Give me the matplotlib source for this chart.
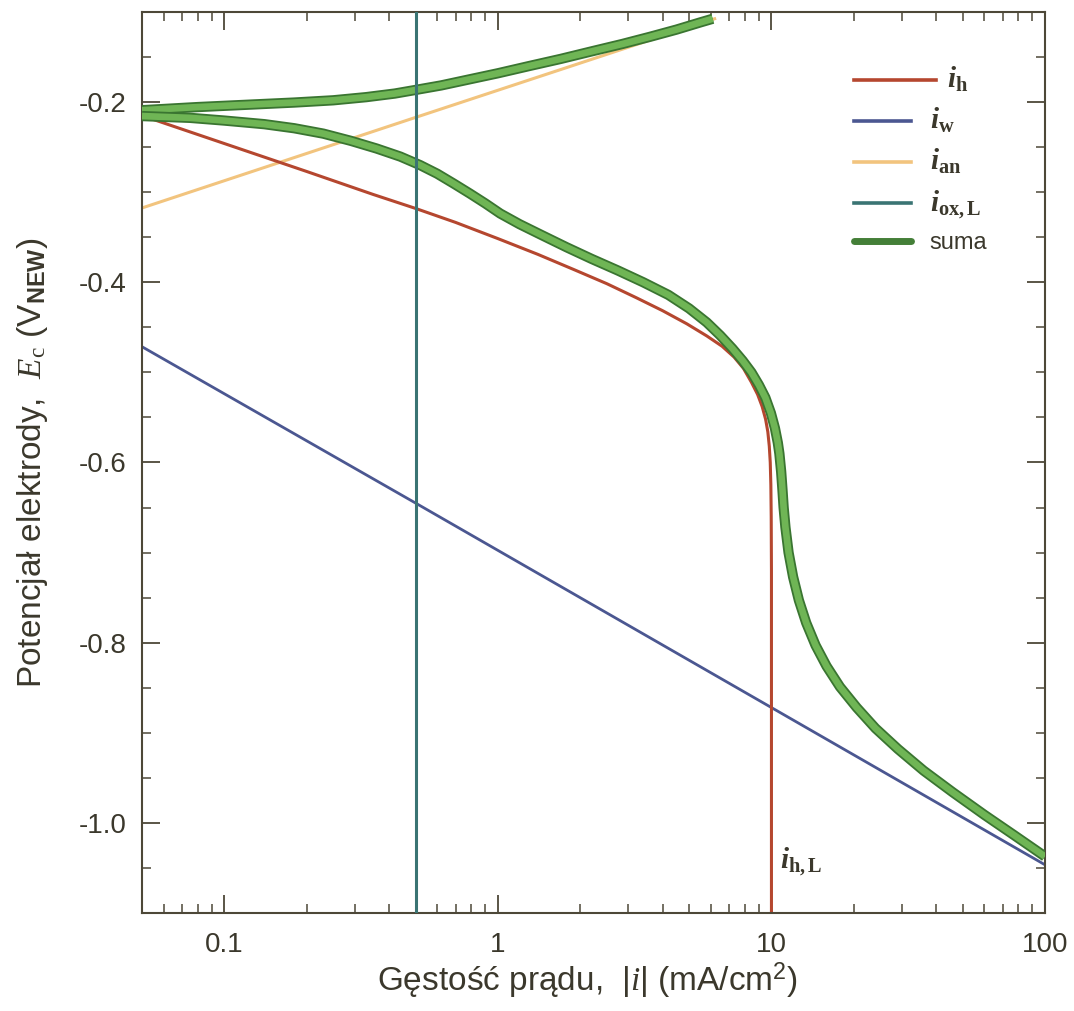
import matplotlib
matplotlib.use('Agg')
import matplotlib.pyplot as plt
import matplotlib.patheffects as pe
from matplotlib.ticker import FixedLocator, FixedFormatter, MultipleLocator, LogLocator, NullFormatter
from matplotlib.lines import Line2D
from matplotlib.legend_handler import HandlerLine2D

plt.rcParams.update({
    'font.family': ['Liberation Sans', 'DejaVu Sans'],
    'mathtext.fontset': 'custom',
    'mathtext.rm': 'Liberation Serif',
    'mathtext.it': 'Liberation Serif:italic',
    'mathtext.bf': 'Liberation Serif:bold',
    'mathtext.bfit': 'Liberation Serif:italic:bold',
    'mathtext.sf': 'Liberation Sans:bold',
    'axes.unicode_minus': False,
})

# ---------------- data ----------------
# i_h : hydrogen evolution with limiting current (mA/cm2, V)
ih_I = [0.05, 0.1, 0.2, 0.35, 0.5, 0.7, 1.0, 1.4, 1.9, 2.5, 3.2, 4.0, 4.9, 5.8, 6.6, 7.3, 7.9,
        8.45, 8.9, 9.25, 9.52, 9.7, 9.82, 9.9, 9.95, 9.98, 10.0, 10.0]
ih_E = [-0.215, -0.246, -0.277, -0.3025, -0.318, -0.3335, -0.3515, -0.369, -0.386, -0.4015, -0.417,
        -0.4315, -0.446, -0.4595, -0.471, -0.483, -0.4955, -0.511, -0.5245, -0.538, -0.552, -0.566,
        -0.582, -0.60, -0.625, -0.66, -0.72, -1.10]

# i_w : water reduction (Tafel line)
iw_I = [0.05, 0.5, 10, 100]
iw_E = [-0.4715, -0.645, -0.872, -1.0465]

# i_an : anodic dissolution
ian_I = [0.05, 0.5, 6.2]
ian_E = [-0.3175, -0.217, -0.1075]

# i_ox,L : limiting oxygen reduction current
iox_I = [0.5, 0.5]
iox_E = [-1.1, -0.1]

# suma : anodic (upper) branch
su_I = [0.05, 0.08, 0.12, 0.18, 0.25, 0.33, 0.42, 0.5, 0.62, 0.78, 1.0, 1.3, 1.7, 2.2, 2.85, 3.6, 4.5, 5.5, 6.1]
su_E = [-0.209, -0.2055, -0.203, -0.2005, -0.198, -0.1945, -0.1905, -0.1865, -0.1815, -0.175, -0.168,
        -0.160, -0.152, -0.1437, -0.1355, -0.1275, -0.1195, -0.1115, -0.1075]

# suma : cathodic (lower) branch
sl_I = [0.05, 0.075, 0.1, 0.14, 0.18, 0.23, 0.29, 0.36, 0.44, 0.52, 0.6, 0.69, 0.79, 0.9, 1.02, 1.2,
        1.45, 1.78, 2.2, 2.75, 3.4, 4.2, 5.0, 5.8, 6.5, 7.2, 7.85, 8.45, 9.0, 9.5, 9.95, 10.3, 10.55,
        10.69, 10.85, 10.97, 11.08, 11.25, 11.55, 12.0, 12.6, 13.4, 14.5, 15.9, 17.8, 20.5, 24.0, 29.0,
        36.0, 46.0, 60.0, 77.0, 100.0]
sl_E = [-0.2155, -0.2175, -0.2205, -0.2245, -0.229, -0.235, -0.243, -0.2515, -0.2605, -0.270, -0.2795,
        -0.2905, -0.3015, -0.3125, -0.3237, -0.3355, -0.3478, -0.361, -0.374, -0.387, -0.400, -0.414,
        -0.429, -0.4445, -0.459, -0.4735, -0.487, -0.500, -0.514, -0.528, -0.545, -0.562, -0.578,
        -0.590, -0.61, -0.63, -0.65, -0.672, -0.70, -0.727, -0.753, -0.778, -0.803, -0.826, -0.849,
        -0.872, -0.895, -0.918, -0.942, -0.966, -0.991, -1.0135, -1.0373]

xticks = [0.1, 1, 10, 100]
xticklabels = ['0.1', '1', '10', '100']
yticks = [-1.0, -0.8, -0.6, -0.4, -0.2]
yticklabels = ['-1.0', '-0.8', '-0.6', '-0.4', '-0.2']

# ---------------- style ----------------
TXT = '#3b382c'
SPINE = '#4d4838'
C_H = '#b5472f'
C_W = '#4b5791'
C_AN = '#f2c47e'
C_OX = '#3a7473'
C_SUM = '#6fb555'
C_SUM_EDGE = '#3a7531'

fig = plt.figure(figsize=(10.74, 10.11), dpi=100)
ax = fig.add_axes([142/1074, 1 - 913/1011, 903/1074, 901/1011])

ax.plot(ian_I, ian_E, color=C_AN, lw=2.2, zorder=2)
ax.plot(iw_I, iw_E, color=C_W, lw=2.0, zorder=2)
ax.plot(ih_I, ih_E, color=C_H, lw=2.2, zorder=2, solid_joinstyle='round')
peff = [pe.Stroke(linewidth=7.4, foreground=C_SUM_EDGE, joinstyle='round'), pe.Normal()]
for xs, ys in ((su_I, su_E), (sl_I, sl_E)):
    ax.plot(xs, ys, color=C_SUM, lw=4.8, zorder=3, path_effects=peff,
            solid_capstyle='butt', solid_joinstyle='round')
ax.plot(iox_I, iox_E, color=C_OX, lw=2.2, zorder=4)

ax.set_xscale('log')
ax.set_xlim(0.05, 100)
ax.set_ylim(-1.1, -0.1)

ax.xaxis.set_major_locator(FixedLocator(xticks))
ax.xaxis.set_major_formatter(FixedFormatter(xticklabels))
ax.xaxis.set_minor_locator(LogLocator(base=10, subs=[2, 3, 4, 5, 6, 7, 8, 9]))
ax.xaxis.set_minor_formatter(NullFormatter())
ax.yaxis.set_major_locator(FixedLocator(yticks))
ax.yaxis.set_major_formatter(FixedFormatter(yticklabels))
ax.yaxis.set_minor_locator(MultipleLocator(0.05))

for s in ax.spines.values():
    s.set_color(SPINE)
    s.set_linewidth(1.5)
ax.tick_params(which='both', direction='in', top=True, right=True, color=SPINE, labelcolor=TXT)
ax.tick_params(which='major', length=13, width=1.3, labelsize=20)
ax.tick_params(which='minor', length=6.5, width=1.1)
ax.tick_params(axis='x', which='major', pad=14)
ax.tick_params(axis='y', which='major', pad=11)

ax.set_xlabel(r'Gęstość prądu,  |$i$| (mA/cm$^{\mathregular{2}}$)', fontsize=24, color=TXT)
ax.set_ylabel(r'Potencjał elektrody,  $E_{\mathrm{c}}$ (V$_{\mathsf{NEW}}$)', fontsize=24, color=TXT)
ax.xaxis.set_label_coords((587 - 142) / 903, (913 - 961) / 901)
ax.yaxis.set_label_coords((50 - 142) / 903, 0.5)

ax.text(10.75, -1.05, r'$\mathbfit{i}_{\mathbf{h,L}}$', fontsize=21, color=TXT, ha='left', va='baseline')


class LongHandler(HandlerLine2D):
    def create_artists(self, legend, orig_handle, xdescent, ydescent, width, height, fontsize, trans):
        return super().create_artists(legend, orig_handle, xdescent, ydescent, width * 1.45,
                                      height, fontsize, trans)


handles = [Line2D([], [], color=C_H, lw=2.6),
           Line2D([], [], color=C_W, lw=2.6),
           Line2D([], [], color=C_AN, lw=2.6),
           Line2D([], [], color=C_OX, lw=2.6),
           Line2D([], [], color='#447f38', lw=5, solid_capstyle='round')]
labels = [r'$\;\;\;\mathbfit{i}_{\mathbf{h}}$', r'$\mathbfit{i}_{\mathbf{w}}$', r'$\mathbfit{i}_{\mathbf{an}}$',
          r'$\mathbfit{i}_{\mathbf{ox,L}}$', 'suma']
leg = ax.legend(handles, labels, loc='upper left', bbox_to_anchor=((854 - 142) / 903, (913 - 65) / 901),
                frameon=False, fontsize=17, handlelength=2.4, handletextpad=0.8,
                labelspacing=0.5, borderpad=0, borderaxespad=0,
                handler_map={handles[0]: LongHandler()})
for t in leg.get_texts():
    t.set_color(TXT)
for t in leg.get_texts()[:4]:
    t.set_fontsize(21)

fig.savefig('out.png', dpi=100)
